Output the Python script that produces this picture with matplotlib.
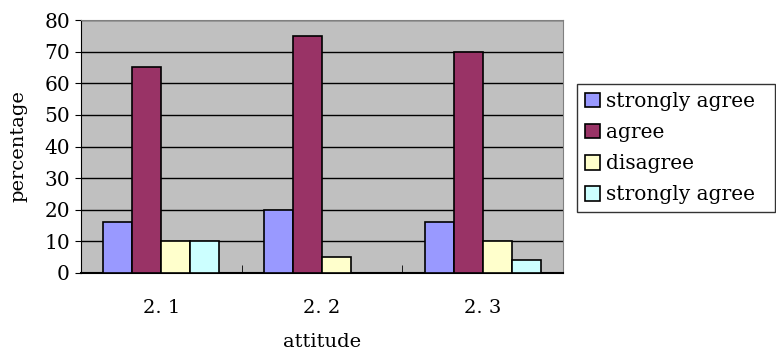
import matplotlib
matplotlib.use("Agg")
import matplotlib.pyplot as plt
import numpy as np

categories = ["2. 1", "2. 2", "2. 3"]
series_names = ["strongly agree", "agree", "disagree", "strongly agree"]
strongly_agree = [16, 20, 16]
agree = [65, 75, 70]
disagree = [10, 5, 10]
strongly_disagree = [10, 0, 4]
colors = ["#9999FF", "#993366", "#FFFFCC", "#CCFFFF"]

plt.rcParams["font.family"] = ["DejaVu Serif"]

fig = plt.figure(figsize=(7.76, 3.5), dpi=100)
ax = fig.add_axes([81 / 776, 77 / 350, 482 / 776, 253 / 350])
ax.set_facecolor("#C0C0C0")

x = np.arange(len(categories))
width = 0.18
values = [strongly_agree, agree, disagree, strongly_disagree]
for i, (vals, name, c) in enumerate(zip(values, series_names, colors)):
    ax.bar(x + (i - 1.5) * width, vals, width, color=c, edgecolor="black",
           linewidth=1.2, label=name, zorder=3)

ax.set_xlim(-0.5, 2.5)
ax.set_ylim(0, 80)
ax.set_yticks(range(0, 81, 10))
ax.yaxis.grid(True, color="black", linewidth=1, zorder=0)
ax.set_axisbelow(True)

ax.set_xticks(x)
ax.set_xticklabels(categories, fontsize=14)
ax.set_xticks([0.5, 1.5], minor=True)
ax.tick_params(axis="x", which="major", length=0, pad=19)
ax.tick_params(axis="x", which="minor", direction="in", length=6, color="black")
ax.tick_params(axis="y", labelsize=14.5, length=4, pad=4)

ax.spines["top"].set_color("#808080")
ax.spines["right"].set_color("#808080")
ax.spines["left"].set_color("black")
ax.spines["bottom"].set_color("black")
ax.spines["bottom"].set_linewidth(1.5)

ax.set_xlabel("attitude", fontsize=14, labelpad=11)
ax.set_ylabel("percentage", fontsize=14, labelpad=12)

leg = fig.legend(loc="upper left",
                 bbox_to_anchor=(577 / 776, 1 - 207 / 350, 198 / 776, 123 / 350),
                 mode="expand", fontsize=14.5, frameon=True, fancybox=False,
                 edgecolor="black", handlelength=0.75, handleheight=0.75,
                 handletextpad=0.3, borderpad=0.4, labelspacing=0.6,
                 borderaxespad=0)
leg.get_frame().set_linewidth(1)

fig.savefig("out.png", dpi=100)
